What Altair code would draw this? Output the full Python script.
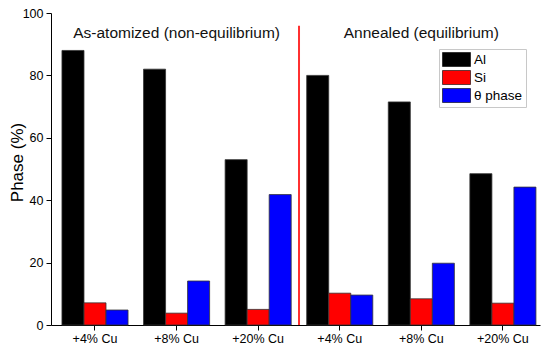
import altair as alt
import pandas as pd

# ---- data ----
conditions = ["As-atomized", "As-atomized", "As-atomized", "Annealed", "Annealed", "Annealed"]
cu_labels = ["+4% Cu", "+8% Cu", "+20% Cu", "+4% Cu", "+8% Cu", "+20% Cu"]
series = ["Al", "Si", "θ phase"]
al_values = [88, 82, 53, 80, 71.5, 48.5]
si_values = [7.1, 3.8, 5.0, 10.2, 8.4, 7.0]
theta_values = [4.8, 14.1, 41.8, 9.6, 19.8, 44.2]
colors = ["#000000", "#ff0000", "#0000ff"]

header_texts = ["As-atomized (non-equilibrium)", "Annealed (equilibrium)"]
header_groups = [1, 4]          # index of group under which header is centered
header_y = 93.7
divider_pos = 3                 # between group 3 and 4 (group centers at i + 0.5)
divider_top = 95.9

keys = [f"{c}|{l}" for c, l in zip(conditions, cu_labels)]

rows = []
for k, a, s, t in zip(keys, al_values, si_values, theta_values):
    rows.append({"key": k, "series": "Al", "value": a})
    rows.append({"key": k, "series": "Si", "value": s})
    rows.append({"key": k, "series": "θ phase", "value": t})
df = pd.DataFrame(rows)

hdr = pd.DataFrame({"key": [keys[i] for i in header_groups], "text": header_texts, "y": [header_y] * 2})
div = pd.DataFrame({"x": [divider_pos], "y": [0], "y2": [divider_top]})

FONT = "Liberation Sans"
W, H = 489, 312

xscale = alt.Scale(type="band", domain=keys, paddingInner=0.19, paddingOuter=0.092, align=0.73)
yscale = alt.Scale(domain=[0, 100], nice=False)

bars = alt.Chart(df).mark_bar(stroke="#333333", strokeWidth=0.8).encode(
    x=alt.X("key:N", scale=xscale, sort=keys, title=None,
            axis=alt.Axis(labelExpr="split(datum.label, '|')[1]", labelAngle=0,
                          labelFontSize=12.5, labelFont=FONT, labelColor="#000000",
                          tickSize=5, tickColor="#000000", domainColor="#000000",
                          labelPadding=2)),
    xOffset=alt.XOffset("series:N", sort=series, scale=alt.Scale(paddingInner=0, paddingOuter=0)),
    y=alt.Y("value:Q", scale=yscale, title="Phase (%)",
            axis=alt.Axis(values=list(range(0, 101, 10)),
                          labelExpr="datum.value % 20 == 0 ? datum.label : ''",
                          tickSize={"condition": {"test": "datum.value % 20 == 0", "value": 5}, "value": 3},
                          labelFontSize=12.5, labelFont=FONT, labelColor="#000000",
                          titleFontSize=17, titleFont=FONT, titleFontWeight="normal",
                          titleColor="#000000", titleX=-34, titleY=149,
                          titleAngle=270, titleAlign="center", titleBaseline="middle",
                          tickColor="#000000", domainColor="#000000", grid=False, labelPadding=3)),
    color=alt.Color("series:N", sort=series,
                    scale=alt.Scale(domain=series, range=colors),
                    legend=alt.Legend(title=None, orient="none", legendX=388, legendY=36,
                                      symbolType="M-1,-1H3V1H-1Z", symbolSize=196,
                                      symbolStrokeColor="#000000", symbolStrokeWidth=0.6,
                                      labelFont=FONT, labelFontSize=13.5, labelColor="#000000",
                                      labelOffset=17, rowPadding=1, padding=3,
                                      strokeColor="#c8c8c8", fillColor="#ffffff")),
)

headers = alt.Chart(hdr).mark_text(font=FONT, fontSize=15.5, color="#111111", baseline="middle").encode(
    x=alt.X("key:N", scale=xscale, sort=keys, axis=None),
    y=alt.Y("y:Q", scale=yscale),
    text="text:N",
)

divider = alt.Chart(div).mark_rule(color="#ff3030", strokeWidth=2).encode(
    x=alt.X("x:Q", scale=alt.Scale(domain=[-0.039, 5.953], nice=False, zero=False), axis=None),
    y=alt.Y("y:Q", scale=yscale),
    y2="y2:Q",
)

chart = alt.layer(bars, headers, divider).resolve_scale(x="independent").properties(
    width=W, height=H,
    autosize=alt.AutoSizeParams(type="none"),
    padding={"left": 43, "top": 5, "right": 2, "bottom": 22},
).configure_view(stroke=None).configure_axis(domainWidth=1, tickWidth=1)

chart.save("out.html", embed_options={"renderer": "svg", "actions": False})
